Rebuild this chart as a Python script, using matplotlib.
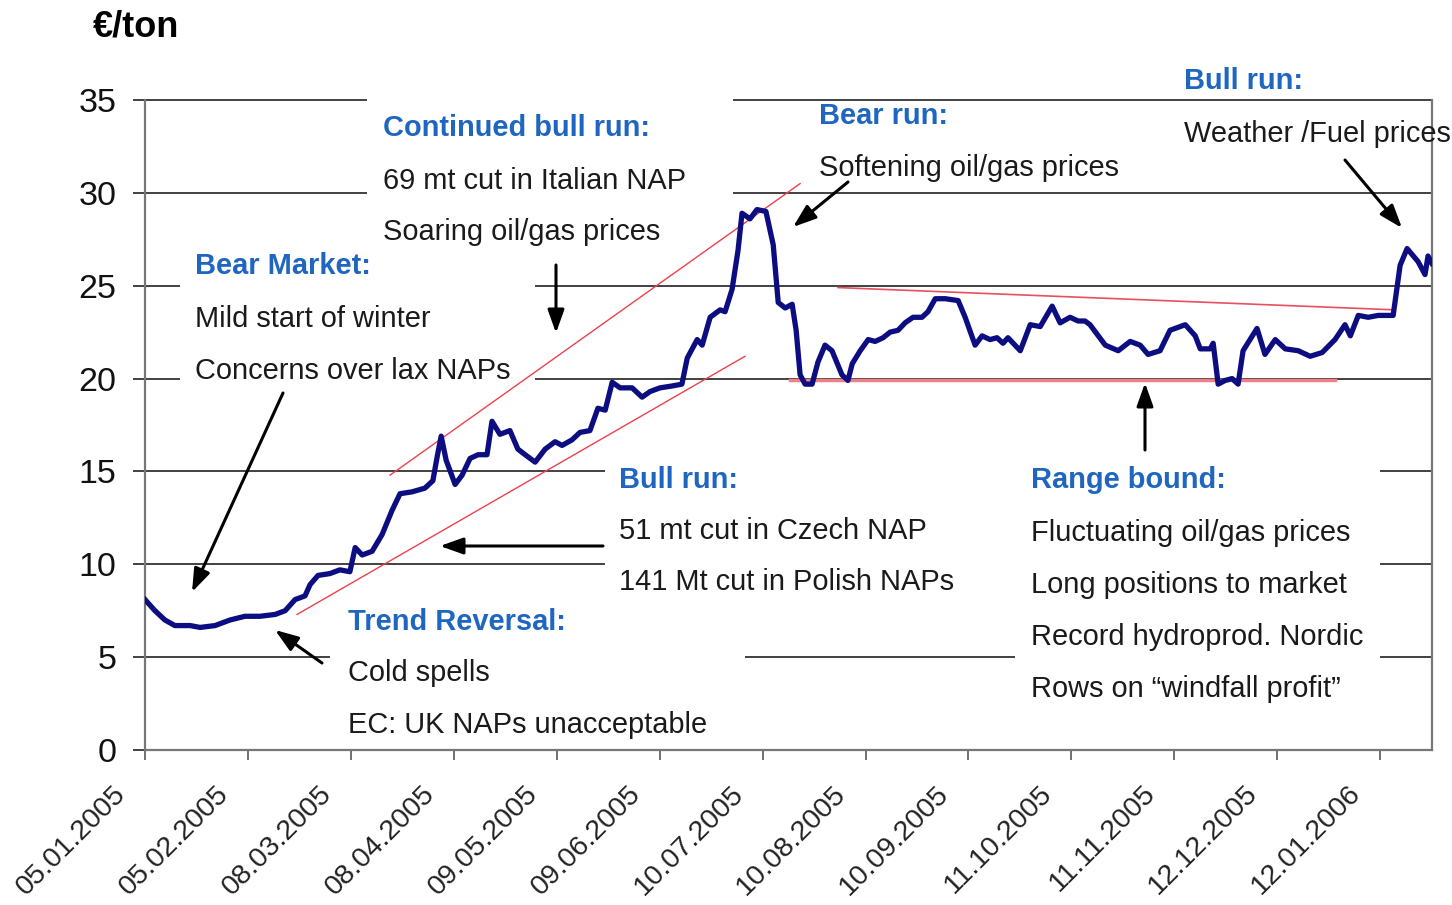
import matplotlib
matplotlib.use("Agg")
import matplotlib.pyplot as plt
import matplotlib.transforms as mtrans
from matplotlib.patches import Rectangle
import numpy as np

plt.rcParams['font.family'] = ['Liberation Sans', 'DejaVu Sans']

# days since 05.01.2005 and price in EUR/ton
days = [0, 3.0, 6.0, 9.0, 13.6, 16.6, 21.1, 25.6, 30.1, 34.6, 39.2, 42.2, 45.2, 48.2, 49.7, 52.1,
        55.7, 58.7, 61.7, 63.3, 65.4, 68.4, 71.4, 74.4, 76.8, 80.4, 84.3, 86.7, 88.0, 89.2, 90.7,
        93.4, 95.5, 97.9, 100.3, 103.0, 104.5, 106.9, 109.9, 112.3, 114.5, 117.5, 120.5, 123.5,
        125.6, 128.6, 131.0, 134.0, 136.4, 138.6, 140.7, 143.1, 146.7, 149.7, 152.1, 155.1, 158.7,
        161.7, 163.3, 166.3, 167.8, 170.2, 173.2, 174.7, 176.8, 178.6, 179.8, 182.2, 184.3, 187.0,
        189.2, 190.7, 192.8, 194.9, 196.1, 197.3, 198.8, 200.9, 202.7, 204.8, 206.9, 209.9, 211.7,
        213.0, 215.4, 217.8, 219.9, 222.3, 224.4, 226.8, 228.9, 231.3, 234.0, 235.8, 238.0, 241.0,
        244.9, 247.0, 250.0, 252.1, 254.5, 256.6, 258.4, 259.9, 263.6, 266.6, 269.6, 273.2, 275.6,
        278.6, 281.0, 283.1, 284.6, 289.2, 293.1, 296.7, 299.7, 302.1, 305.7, 308.7, 313.3, 316.3,
        317.8, 320.8, 321.7, 323.2, 325.3, 327.4, 329.2, 330.7, 332.8, 334.9, 337.3, 340.4, 343.4,
        347.3, 350.9, 354.5, 358.4, 361.4, 363.0, 365.4, 368.4, 371.4, 375.9, 378.0, 380.1, 383.4,
        385.5, 386.4, 387.6]
price = [8.1, 7.5, 7.0, 6.7, 6.7, 6.6, 6.7, 7.0, 7.2, 7.2, 7.3, 7.5, 8.1, 8.3, 8.9, 9.4,
         9.5, 9.7, 9.6, 10.9, 10.5, 10.7, 11.6, 12.9, 13.8, 13.9, 14.1, 14.5, 15.8, 16.9, 15.6,
         14.3, 14.8, 15.7, 15.9, 15.9, 17.7, 17.0, 17.2, 16.2, 15.9, 15.5, 16.2, 16.6,
         16.4, 16.7, 17.1, 17.2, 18.4, 18.3, 19.8, 19.5, 19.5, 19.0, 19.3, 19.5, 19.6,
         19.7, 21.1, 22.1, 21.8, 23.3, 23.7, 23.6, 24.8, 26.9, 28.9, 28.6, 29.1, 29.0,
         27.2, 24.1, 23.8, 24.0, 22.6, 20.2, 19.7, 19.7, 20.9, 21.8, 21.5, 20.2, 19.9,
         20.8, 21.5, 22.1, 22.0, 22.2, 22.5, 22.6, 23.0, 23.3, 23.3, 23.6, 24.3, 24.3,
         24.2, 23.3, 21.8, 22.3, 22.1, 22.2, 21.9, 22.2, 21.5, 22.9, 22.8, 23.9, 23.0,
         23.3, 23.1, 23.1, 22.9, 21.8, 21.5, 22.0, 21.8, 21.3, 21.5, 22.6, 22.9, 22.3,
         21.6, 21.6, 21.9, 19.7, 19.9, 20.0, 19.7, 21.5, 22.1, 22.7, 21.3, 22.1, 21.6,
         21.5, 21.2, 21.4, 22.1, 22.9, 22.3, 23.4, 23.3, 23.4, 23.4, 26.1, 27.0, 26.3,
         25.6, 26.6, 26.2]

tick_days = [0, 31, 62, 93, 124, 155, 186, 217, 248, 279, 310, 341, 372]
tick_labels = ['05.01.2005', '05.02.2005', '08.03.2005', '08.04.2005', '09.05.2005',
               '09.06.2005', '10.07.2005', '10.08.2005', '10.09.2005', '11.10.2005',
               '11.11.2005', '12.12.2005', '12.01.2006']

# trend lines (day, price)
upper_x, upper_y = [73.8, 197.3], [14.8, 30.5]
lower_x, lower_y = [45.8, 180.7], [7.3, 21.2]
resist_x, resist_y = [208.7, 376.5], [24.9, 23.7]
support_x, support_y = [194.3, 358.4], [19.9, 19.9]

W, H = 1452, 905
fig = plt.figure(figsize=(W / 100, H / 100), dpi=100)
ax = fig.add_axes([145 / W, 1 - 750 / H, (1432 - 145) / W, 650 / H])


def fx(px, py):
    return px / W, 1 - py / H


BLUE = '#1f66c1'

ax.plot(upper_x, upper_y, color='#f0404c', lw=1.0, zorder=3)
ax.plot(lower_x, lower_y, color='#f0404c', lw=1.0, zorder=3)
ax.plot(resist_x, resist_y, color='#e85060', lw=1.2, zorder=3)
ax.plot(support_x, support_y, color='#f08088', lw=2.5, zorder=3)
ax.plot(days, price, color='#0d0d82', lw=3.8, zorder=4, solid_joinstyle='round')

ax.set_xlim(0, 387.6)
ax.set_ylim(0, 35)
ax.set_yticks(np.arange(0, 36, 5))
ax.set_xticks(tick_days)
ax.set_xticklabels(tick_labels, rotation=45, ha='right', va='top', fontsize=20.5, color='#222')
ax.tick_params(axis='y', labelsize=24.5, length=8.6, width=1.3, color='#333', pad=12, labelcolor='#111')
ax.tick_params(axis='x', length=7, width=1.3, color='#666', pad=15)
ax.set_axisbelow(True)
ax.yaxis.grid(True, color='#333', lw=1.3)
for gl in ax.get_ygridlines():
    gl.set_clip_on(False)
for s in ['left', 'bottom', 'right']:
    ax.spines[s].set_color('#777')
    ax.spines[s].set_linewidth(1.6)
ax.spines['top'].set_visible(False)

off = mtrans.ScaledTranslation(-14 / 100, 0, fig.dpi_scale_trans)
for lab in ax.get_xticklabels():
    lab.set_transform(lab.get_transform() + off)

# white boxes behind text blocks
boxes = [(367, 90, 733, 255), (180, 240, 535, 390), (605, 455, 1015, 600),
         (330, 600, 745, 740), (1015, 455, 1380, 705)]
for x0, y0, x1, y1 in boxes:
    r = Rectangle(fx(x0, y1), (x1 - x0) / W, (y1 - y0) / H, transform=fig.transFigure,
                  facecolor='white', edgecolor='none', zorder=1, clip_on=False)
    ax.add_patch(r)

notes = [
    (383, 125, 'Continued bull run:', True),
    (383, 178, '69 mt cut in Italian NAP', False),
    (383, 229, 'Soaring oil/gas prices', False),
    (819, 113, 'Bear run:', True),
    (819, 165, 'Softening oil/gas prices', False),
    (1184, 78, 'Bull run:', True),
    (1184, 131, 'Weather /Fuel prices', False),
    (195, 263, 'Bear Market:', True),
    (195, 316, 'Mild start of winter', False),
    (195, 368, 'Concerns over lax NAPs', False),
    (619, 477, 'Bull run:', True),
    (619, 528, '51 mt cut in Czech NAP', False),
    (619, 579, '141 Mt cut in Polish NAPs', False),
    (348, 619, 'Trend Reversal:', True),
    (348, 670, 'Cold spells', False),
    (348, 722, 'EC: UK NAPs unacceptable', False),
    (1031, 477, 'Range bound:', True),
    (1031, 530, 'Fluctuating oil/gas prices', False),
    (1031, 582, 'Long positions to market', False),
    (1031, 634, 'Record hydroprod. Nordic', False),
    (1031, 686, 'Rows on \u201cwindfall profit\u201d', False),
]
for px, py, txt, head in notes:
    x, y = fx(px, py + 3)
    ax.text(x, y, txt, transform=fig.transFigure, fontsize=20.9, va='center', ha='left',
            color=BLUE if head else '#1a1a1a', fontweight='bold' if head else 'normal',
            zorder=6)

arrows = [((283, 393), (192, 592)), ((322, 663), (275, 630)), ((556, 265), (556, 333)),
          ((603, 546), (440, 546)), ((848, 182), (793, 227)), ((1145, 450), (1145, 383)),
          ((1345, 160), (1402, 228))]
for tail, head in arrows:
    ax.annotate('', xy=fx(*head), xytext=fx(*tail), xycoords='figure fraction',
                textcoords='figure fraction',
                arrowprops=dict(arrowstyle='-|>,head_length=0.7,head_width=0.25', lw=2.2,
                                color='black', shrinkA=0, shrinkB=0, mutation_scale=20),
                zorder=6)

fig.text(93 / W, 1 - 27 / H, '\u20ac/ton', fontsize=26, fontweight='bold', va='center', ha='left')

fig.savefig('out.png', dpi=100, facecolor='white')
